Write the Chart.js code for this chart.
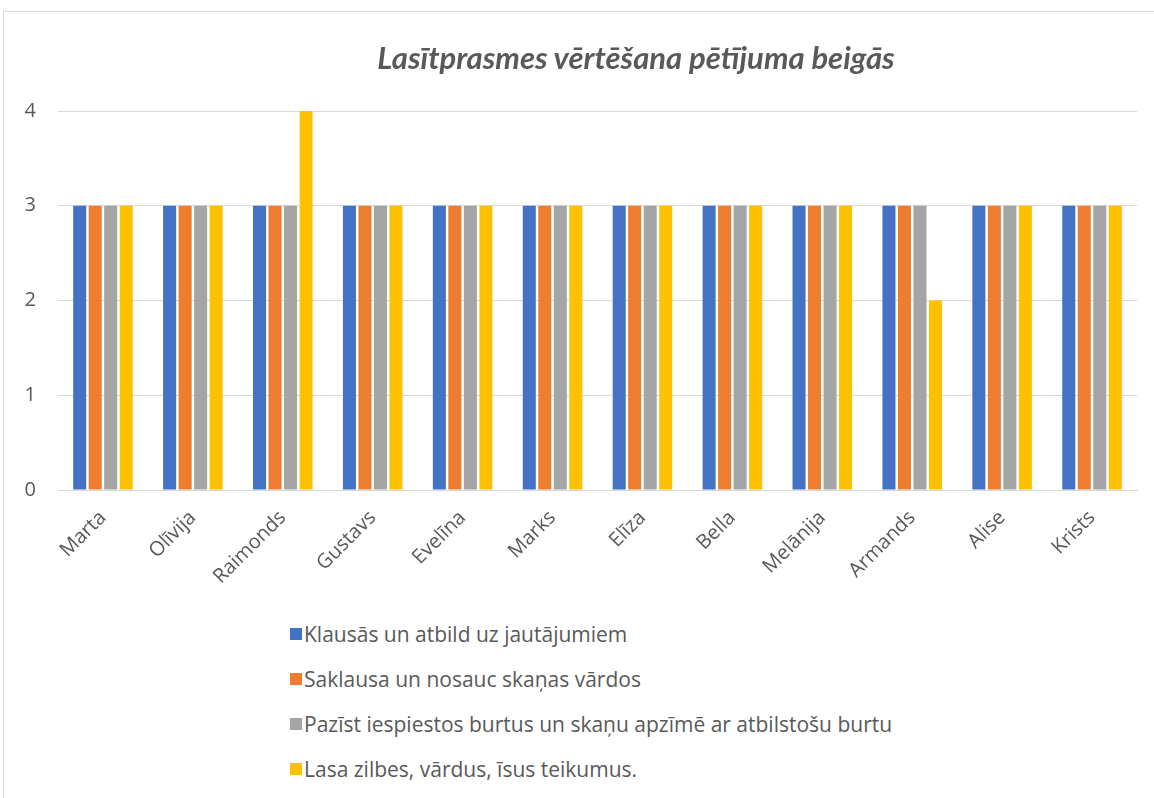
<!DOCTYPE html>
<html>
<head>
<meta charset="utf-8">
<script src="https://cdn.jsdelivr.net/npm/chart.js@4"></script>
<style>
  body { margin: 0; background: #fff; }
  #wrap { position: relative; width: 1154px; height: 798px; overflow: hidden; }
  #frame { position: absolute; left: 3px; top: 11px; width: 1200px; height: 900px; border: 1px solid #d9d9d9; }
  #chart { position: absolute; left: 0; top: 0; }
  #title { position: absolute; left: 336px; width: 600px; top: 37px; text-align: center;
           font-family: Lato, sans-serif; font-size: 31px; font-style: italic; font-weight: bold;
           color: #595959; line-height: 40px; }
  #legend { position: absolute; left: 290px; top: 611px; font-family: "Open Sans", sans-serif; font-size: 21px; color: #595959; }
  #legend div { height: 45px; display: flex; align-items: center; }
  #legend span.box { display: inline-block; width: 12px; height: 12px; margin-right: 2px; }
</style>
</head>
<body>
<div id="wrap">
  <div id="frame"></div>
  <canvas id="chart" width="1154" height="600"></canvas>
  <div id="title">Lasītprasmes vērtēšana pētījuma beigās</div>
  <div id="legend"></div>
</div>
<script>
// Names of the pupils
const pupils = ['Marta', 'Olīvija', 'Raimonds', 'Gustavs', 'Evelīna', 'Marks', 'Elīza', 'Bella', 'Melānija', 'Armands', 'Alise', 'Krists'];

// Scores for each skill
const listens = [3, 3, 3, 3, 3, 3, 3, 3, 3, 3, 3, 3];
const hearsSounds = [3, 3, 3, 3, 3, 3, 3, 3, 3, 3, 3, 3];
const knowsLetters = [3, 3, 3, 3, 3, 3, 3, 3, 3, 3, 3, 3];
const readsWords = [3, 3, 4, 3, 3, 3, 3, 3, 3, 2, 3, 3];

const skillNames = [
    'Klausās un atbild uz jautājumiem',
    'Saklausa un nosauc skaņas vārdos',
    'Pazīst iespiestos burtus un skaņu apzīmē ar atbilstošu burtu',
    'Lasa zilbes, vārdus, īsus teikumus.'
];
const colors = ['#4472C4', '#ED7D31', '#A5A5A5', '#FFC000'];
const yTicks = [0, 1, 2, 3, 4];

const series = [listens, hearsSounds, knowsLetters, readsWords];

const ctx = document.getElementById('chart').getContext('2d');
const myChart = new Chart(ctx, {
    type: 'bar',
    data: {
        labels: pupils,
        datasets: series.map((values, i) => ({
            label: skillNames[i],
            data: values,
            backgroundColor: colors[i],
            barPercentage: 0.84,
            categoryPercentage: 0.69
        }))
    },
    options: {
        responsive: false,
        animation: false,
        layout: { padding: { left: 0, right: 17, top: 111, bottom: 0 } },
        plugins: {
            legend: { display: false },
            tooltip: { enabled: false },
            title: { display: false }
        },
        scales: {
            x: {
                grid: { display: false },
                border: { color: '#d9d9d9' },
                ticks: {
                    color: '#595959',
                    font: { family: 'Open Sans', size: 20 },
                    minRotation: 45,
                    maxRotation: 45,
                    padding: 8
                },
                afterFit: (scale) => { scale.height = 110; }
            },
            y: {
                min: 0,
                max: 4,
                afterBuildTicks: (scale) => { scale.ticks = yTicks.map(v => ({ value: v })); },
                grid: { color: '#d9d9d9', drawTicks: false },
                border: { display: false },
                ticks: {
                    color: '#595959',
                    font: { family: 'Open Sans', size: 20 },
                    padding: 22
                },
                afterFit: (scale) => { scale.width = 58; }
            }
        }
    }
});

// Legend is built as a vertical list below the chart
const legendBox = document.getElementById('legend');
skillNames.forEach((name, i) => {
    const row = document.createElement('div');
    row.innerHTML = '<span class="box" style="background:' + colors[i] + '"></span>' + name;
    legendBox.appendChild(row);
});
</script>
</body>
</html>
